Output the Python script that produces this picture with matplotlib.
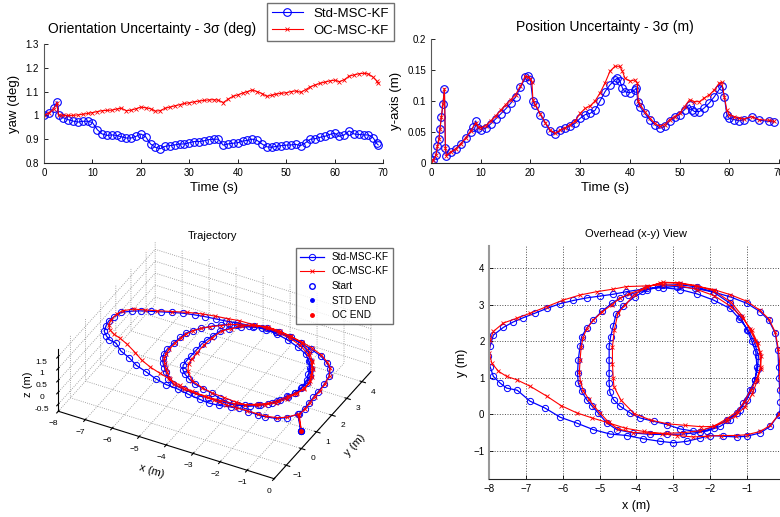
import numpy as np
import matplotlib
matplotlib.use('Agg')
import matplotlib.pyplot as plt

plt.rcParams['font.family'] = ['Liberation Sans', 'DejaVu Sans']

# ---------------- orientation uncertainty (yaw, deg) ----------------
t_yaw = [0, 1, 2, 2.7, 3, 4, 5, 6, 7, 8, 9, 10, 11, 12, 13, 14, 15, 16, 17, 18,
         19, 20, 21, 22, 23, 24, 25, 26, 27, 28, 29, 30, 31, 32, 33, 34, 35, 36,
         37, 38, 39, 40, 41, 42, 43, 44, 45, 46, 47, 48, 49, 50, 51, 52, 53, 54,
         55, 56, 57, 58, 59, 60, 61, 62, 63, 64, 65, 66, 67, 68, 68.7, 69]
yaw_std = [1.000, 1.010, 1.030, 1.058, 1.000, 0.990, 0.982, 0.976, 0.972, 0.975,
           0.976, 0.970, 0.940, 0.922, 0.916, 0.918, 0.916, 0.910, 0.905, 0.905,
           0.912, 0.922, 0.910, 0.880, 0.866, 0.860, 0.870, 0.873, 0.876, 0.880,
           0.880, 0.885, 0.890, 0.890, 0.893, 0.898, 0.900, 0.900, 0.875, 0.880,
           0.883, 0.885, 0.892, 0.895, 0.900, 0.895, 0.880, 0.868, 0.866, 0.870,
           0.873, 0.875, 0.876, 0.878, 0.873, 0.885, 0.900, 0.902, 0.908, 0.912,
           0.920, 0.925, 0.912, 0.918, 0.935, 0.922, 0.920, 0.918, 0.918, 0.905,
           0.882, 0.876]
yaw_oc = [1.000, 1.010, 1.028, 1.052, 1.003, 1.000, 1.000, 1.000, 1.002, 1.005,
          1.008, 1.012, 1.016, 1.020, 1.021, 1.022, 1.027, 1.030, 1.020, 1.022,
          1.028, 1.035, 1.032, 1.028, 1.018, 1.020, 1.030, 1.035, 1.040, 1.045,
          1.050, 1.053, 1.057, 1.060, 1.063, 1.065, 1.066, 1.064, 1.054, 1.068,
          1.080, 1.086, 1.094, 1.100, 1.107, 1.100, 1.092, 1.080, 1.085, 1.090,
          1.093, 1.095, 1.100, 1.103, 1.097, 1.108, 1.120, 1.128, 1.135, 1.140,
          1.145, 1.148, 1.142, 1.150, 1.165, 1.170, 1.175, 1.177, 1.174, 1.160,
          1.145, 1.135]

# ---------------- position uncertainty (y-axis, m) ----------------
t_pos_std = [0, 0.5, 1, 1.3, 1.6, 1.8, 2.1, 2.4, 2.7, 2.9, 3.1, 4, 5, 6, 7, 8, 8.5,
             9, 9.5, 10, 11, 12, 13, 14, 15, 16, 17, 18, 19, 19.5, 20, 20.5, 21,
             22, 23, 24, 25, 26, 27, 28, 29, 30, 31, 32, 33, 34, 35, 36, 37, 37.5,
             38, 38.5, 39, 40, 41, 41.3, 41.6, 42, 43, 44, 45, 46, 47, 48, 49, 50,
             51, 52, 52.5, 53, 54, 55, 56, 57, 58, 58.5, 59, 59.5, 60, 61, 62, 63,
             64.5, 66, 68, 69]
pos_std = [0, 0.005, 0.013, 0.027, 0.038, 0.055, 0.075, 0.095, 0.120, 0.024,
           0.012, 0.018, 0.023, 0.031, 0.040, 0.050, 0.058, 0.068, 0.056, 0.054,
           0.056, 0.063, 0.071, 0.079, 0.087, 0.096, 0.106, 0.122, 0.138, 0.140,
           0.134, 0.100, 0.093, 0.078, 0.064, 0.051, 0.047, 0.053, 0.056, 0.060,
           0.064, 0.072, 0.078, 0.080, 0.085, 0.100, 0.115, 0.126, 0.134, 0.137,
           0.132, 0.121, 0.115, 0.113, 0.118, 0.121, 0.099, 0.091, 0.080, 0.070,
           0.062, 0.056, 0.059, 0.068, 0.074, 0.078, 0.086, 0.094, 0.086, 0.083,
           0.083, 0.089, 0.097, 0.107, 0.119, 0.125, 0.107, 0.078, 0.072, 0.070,
           0.068, 0.070, 0.075, 0.069, 0.067, 0.066]
t_pos_oc = [0, 0.5, 1, 1.3, 1.6, 1.8, 2.1, 2.4, 2.7, 2.9, 3.1, 4, 5, 6, 7, 8, 9,
            9.5, 10, 11, 12, 13, 14, 15, 16, 17, 18, 19, 19.5, 20, 20.3, 20.5, 21,
            22, 23, 24, 25, 26, 27, 28, 29, 30, 31, 32, 33, 34, 35, 36, 37, 38,
            38.5, 39, 40, 41, 41.5, 41.7, 42, 43, 44, 45, 46, 47, 48, 49, 50, 51,
            52, 53, 54, 55, 56, 57, 58, 58.5, 59, 59.5, 60, 61, 62, 63, 64.5, 66,
            68, 69]
pos_oc = [0, 0.005, 0.013, 0.027, 0.038, 0.055, 0.075, 0.095, 0.120, 0.024,
          0.012, 0.018, 0.023, 0.031, 0.041, 0.052, 0.065, 0.058, 0.057, 0.060,
          0.068, 0.076, 0.085, 0.094, 0.102, 0.110, 0.124, 0.140, 0.139, 0.136,
          0.130, 0.102, 0.094, 0.079, 0.065, 0.053, 0.048, 0.053, 0.057, 0.062,
          0.068, 0.080, 0.088, 0.092, 0.100, 0.113, 0.129, 0.148, 0.156, 0.156,
          0.148, 0.137, 0.132, 0.134, 0.129, 0.100, 0.094, 0.083, 0.072, 0.064,
          0.059, 0.062, 0.070, 0.075, 0.080, 0.091, 0.102, 0.099, 0.099, 0.105,
          0.110, 0.118, 0.129, 0.130, 0.107, 0.086, 0.078, 0.075, 0.072, 0.071,
          0.075, 0.070, 0.069, 0.067]

# ---------------- trajectories (x, y in m) ----------------
std_xy = [
    (-0.05, 0.05), (-0.10, 0.00), (-0.08, 0.35), (-0.10, 0.67), (-0.12, 1.00),
    (-0.13, 1.31), (-0.15, 1.76), (-0.22, 2.22), (-0.40, 2.58), (-0.63, 2.81),
    (-0.99, 3.04), (-1.45, 3.22), (-1.90, 3.35), (-2.40, 3.45), (-2.90, 3.50),
    (-3.40, 3.48), (-3.85, 3.38),
    # middle loop
    (-4.22, 3.27), (-4.45, 3.18), (-4.67, 3.04), (-4.94, 2.82), (-5.17, 2.59),
    (-5.35, 2.36), (-5.49, 2.13), (-5.53, 1.86), (-5.58, 1.50), (-5.60, 1.13),
    (-5.58, 0.86), (-5.49, 0.63), (-5.35, 0.40), (-5.20, 0.22), (-5.05, 0.05),
    (-4.80, -0.24), (-4.53, -0.42), (-4.08, -0.51), (-3.62, -0.55), (-3.17, -0.55),
    (-2.72, -0.54), (-2.26, -0.49), (-1.90, -0.37), (-1.54, -0.15), (-1.27, 0.04),
    (-1.09, 0.31), (-0.90, 0.67), (-0.77, 0.95), (-0.72, 1.30), (-0.75, 1.70),
    (-0.86, 2.00), (-0.99, 2.31), (-1.17, 2.67), (-1.45, 3.04), (-1.90, 3.35),
    (-2.35, 3.49), (-2.81, 3.55), (-3.27, 3.54), (-3.70, 3.42),
    # inner loop
    (-4.05, 3.22), (-4.35, 2.98), (-4.55, 2.75), (-4.63, 2.41), (-4.70, 2.13),
    (-4.74, 1.86), (-4.74, 1.50), (-4.74, 1.13), (-4.74, 0.86), (-4.72, 0.60),
    (-4.62, 0.40), (-4.44, 0.22), (-4.17, 0.04), (-3.90, -0.10), (-3.53, -0.19),
    (-3.17, -0.28), (-2.81, -0.40), (-2.45, -0.46), (-2.08, -0.46), (-1.72, -0.33),
    (-1.45, -0.15), (-1.18, 0.13), (-1.00, 0.40), (-0.86, 0.67), (-0.78, 0.95),
    (-0.70, 1.25), (-0.68, 1.60), (-0.78, 1.95), (-0.95, 2.30), (-1.20, 2.62),
    (-1.45, 2.90), (-1.90, 3.13), (-2.35, 3.30), (-2.81, 3.42), (-3.27, 3.47),
    (-3.70, 3.45),
    # big outer loop
    (-4.27, 3.36), (-4.63, 3.29), (-4.99, 3.24), (-5.35, 3.19), (-5.71, 3.12),
    (-6.08, 3.03), (-6.44, 2.90), (-6.76, 2.77), (-7.07, 2.65), (-7.35, 2.53),
    (-7.62, 2.38), (-7.89, 2.17), (-7.98, 1.86), (-8.03, 1.59), (-7.98, 1.31),
    (-7.89, 1.04), (-7.71, 0.86), (-7.53, 0.72), (-7.24, 0.66), (-6.89, 0.36),
    (-6.48, 0.17), (-6.07, -0.08), (-5.62, -0.24), (-5.17, -0.42), (-4.71, -0.54),
    (-4.26, -0.58), (-3.81, -0.67), (-3.35, -0.74), (-2.99, -0.78), (-2.63, -0.74),
    (-2.26, -0.65), (-2.00, -0.58), (-1.63, -0.60), (-1.27, -0.62), (-1.00, -0.60),
    (-0.63, -0.51), (-0.36, -0.33), (-0.13, -0.01), (-0.05, 0.05)]

oc_xy = [
    (-0.03, 0.05), (-0.08, 0.00), (-0.06, 0.35), (-0.08, 0.70), (-0.10, 1.05),
    (-0.10, 1.40), (-0.14, 1.80), (-0.22, 2.25), (-0.40, 2.62), (-0.65, 2.86),
    (-1.00, 3.10), (-1.45, 3.28), (-1.90, 3.42), (-2.40, 3.52), (-2.90, 3.60),
    (-3.35, 3.60), (-3.80, 3.45),
    # middle loop
    (-4.20, 3.30), (-4.45, 3.18), (-4.67, 3.00), (-4.94, 2.80), (-5.17, 2.58),
    (-5.35, 2.35), (-5.45, 2.10), (-5.50, 1.85), (-5.53, 1.50), (-5.55, 1.15),
    (-5.52, 0.88), (-5.44, 0.65), (-5.30, 0.42), (-5.15, 0.22), (-5.00, 0.05),
    (-4.75, -0.22), (-4.50, -0.40), (-4.08, -0.50), (-3.62, -0.52), (-3.17, -0.52),
    (-2.72, -0.50), (-2.26, -0.45), (-1.90, -0.33), (-1.54, -0.12), (-1.27, 0.07),
    (-1.07, 0.33), (-0.88, 0.68), (-0.72, 0.98), (-0.62, 1.30), (-0.64, 1.70),
    (-0.76, 2.02), (-0.92, 2.34), (-1.12, 2.70), (-1.42, 3.07), (-1.88, 3.38),
    (-2.35, 3.52), (-2.81, 3.60), (-3.27, 3.62), (-3.70, 3.50),
    # inner loop
    (-4.05, 3.28), (-4.30, 3.00), (-4.50, 2.77), (-4.60, 2.31), (-4.65, 1.85),
    (-4.65, 1.39), (-4.63, 1.00), (-4.61, 0.76), (-4.42, 0.39), (-4.06, 0.02),
    (-3.60, -0.16), (-3.15, -0.26), (-2.69, -0.30), (-2.23, -0.34), (-1.90, -0.33),
    (-1.54, -0.19), (-1.32, -0.05), (-1.05, 0.20), (-0.85, 0.55), (-0.72, 0.90),
    (-0.62, 1.25), (-0.60, 1.60), (-0.70, 1.95), (-0.86, 2.30), (-1.10, 2.63),
    (-1.42, 2.95), (-1.88, 3.25), (-2.35, 3.42), (-2.81, 3.52), (-3.27, 3.55),
    (-3.70, 3.52),
    # big outer loop
    (-4.27, 3.50), (-4.63, 3.43), (-5.08, 3.36), (-5.53, 3.27), (-5.99, 3.13),
    (-6.44, 2.95), (-6.89, 2.77), (-7.26, 2.63), (-7.62, 2.50), (-7.89, 2.27),
    (-7.98, 2.04), (-8.00, 1.68), (-7.93, 1.40), (-7.75, 1.18), (-7.53, 1.04),
    (-7.26, 0.95), (-6.89, 0.77), (-6.44, 0.50), (-6.05, 0.24), (-5.62, 0.04),
    (-5.20, -0.10), (-4.80, -0.22), (-4.30, -0.38), (-3.80, -0.47), (-3.30, -0.53),
    (-2.90, -0.58), (-2.45, -0.62), (-2.08, -0.60), (-1.70, -0.58), (-1.30, -0.58),
    (-1.00, -0.56), (-0.63, -0.47), (-0.36, -0.30), (-0.12, 0.00), (-0.03, 0.05)]

z_loop = 0.6    # height of the loops in the 3D view
z_tail = -0.1   # height of start / end point

std_xy = np.array(std_xy)
oc_xy = np.array(oc_xy)
z_std = np.full(len(std_xy), z_loop)
z_std[[0, -1]] = z_tail
z_oc = np.full(len(oc_xy), z_loop)
z_oc[[0, -1]] = z_tail

W, H = 780, 517
fig = plt.figure(figsize=(W / 100, H / 100), dpi=100)


def px_rect(l, t, r, b):
    return [l / W, 1 - b / H, (r - l) / W, (b - t) / H]


def matlab_2d(ax):
    for s in ('top', 'right'):
        ax.spines[s].set_visible(False)
    ax.spines['left'].set_color('0.35')
    ax.spines['bottom'].set_color('0.15')
    ax.tick_params(direction='in', length=3, labelsize=7, width=0.6)


std_style = dict(color='b', marker='o', mfc='none', ms=5.5, mew=0.8, lw=0.8)
oc_style = dict(color='r', marker='x', ms=3, mew=0.6, lw=0.8)

# top left
ax1 = fig.add_axes(px_rect(44, 44, 383, 163))
h_std, = ax1.plot(t_yaw, yaw_std, label='Std-MSC-KF', **std_style)
h_oc, = ax1.plot(t_yaw, yaw_oc, label='OC-MSC-KF', **oc_style)
ax1.set_xlim(0, 70)
ax1.set_ylim(0.8, 1.3)
ax1.set_xticks(range(0, 71, 10))
ax1.set_yticks([0.8, 0.9, 1.0, 1.1, 1.2, 1.3])
ax1.set_yticklabels(['0.8', '0.9', '1', '1.1', '1.2', '1.3'])
matlab_2d(ax1)
ax1.set_xlabel('Time (s)', fontsize=9.5, labelpad=3)
ax1.set_ylabel('yaw (deg)', fontsize=9.5, labelpad=4)
ax1.text(0.32, 1.07, 'Orientation Uncertainty - 3σ (deg)', transform=ax1.transAxes,
         ha='center', va='bottom', fontsize=10)

# top right
ax2 = fig.add_axes(px_rect(431, 39, 779, 163))
ax2.plot(t_pos_std, pos_std, **std_style)
ax2.plot(t_pos_oc, pos_oc, **oc_style)
ax2.set_xlim(0, 70)
ax2.set_ylim(0, 0.2)
ax2.set_xticks(range(0, 71, 10))
ax2.set_yticks([0, 0.05, 0.1, 0.15, 0.2])
ax2.set_yticklabels(['0', '0.05', '0.1', '0.15', '0.2'])
matlab_2d(ax2)
ax2.set_xlabel('Time (s)', fontsize=9.5, labelpad=3)
ax2.set_ylabel('y-axis (m)', fontsize=9.5, labelpad=4)
ax2.set_title('Position Uncertainty - 3σ (m)', fontsize=10, pad=6)

fig.legend(handles=[h_std, h_oc], loc='upper left', bbox_to_anchor=(267 / W, 1 - 3 / H),
           fontsize=9.5, frameon=True, fancybox=False, edgecolor='0.3',
           borderaxespad=0, handlelength=2.4, borderpad=0.35, labelspacing=0.35)

# bottom right: overhead view
tr_std = dict(color='b', marker='o', mfc='none', ms=4.5, mew=0.7, lw=0.9)
tr_oc = dict(color='r', marker='x', ms=3, mew=0.6, lw=0.8)
ax4 = fig.add_axes(px_rect(489.3, 245.7, 783.4, 479.3))
ax4.plot(std_xy[:, 0], std_xy[:, 1], **tr_std)
ax4.plot(oc_xy[:, 0], oc_xy[:, 1], **tr_oc)
ax4.set_xlim(-8, 0)
ax4.set_ylim(-1.78, 4.62)
ax4.set_xticks(range(-8, 1))
ax4.set_yticks(range(-1, 5))
ax4.grid(True, ls=':', color='0.3', lw=0.7)
matlab_2d(ax4)
ax4.spines['left'].set_color('0.6')
ax4.spines['left'].set_linewidth(1.5)
ax4.set_xlabel('x (m)', fontsize=9, labelpad=4)
ax4.set_ylabel('y (m)', fontsize=9, labelpad=4)
ax4.set_title('Overhead (x-y) View', fontsize=8, pad=6)

# bottom left: 3D trajectory
ax3 = fig.add_axes([0.0, 0.005, 0.54, 0.58], projection='3d')
ax3.set_proj_type('ortho')
ax3.view_init(elev=36, azim=-62)
ax3.plot(std_xy[:, 0], std_xy[:, 1], z_std, label='Std-MSC-KF', **tr_std)
ax3.plot(oc_xy[:, 0], oc_xy[:, 1], z_oc, label='OC-MSC-KF', **tr_oc)
ax3.plot([std_xy[0, 0]], [std_xy[0, 1]], [z_std[0]], 'o', color='b', mfc='none', ms=4,
         ls='none', label='Start')
ax3.plot([std_xy[-1, 0]], [std_xy[-1, 1]], [z_std[-1]], '.', color='b', ms=5,
         ls='none', label='STD END')
ax3.plot([oc_xy[-1, 0]], [oc_xy[-1, 1]], [z_oc[-1]], '.', color='r', ms=5,
         ls='none', label='OC END')
ax3.set_xlim(-8, 0)
ax3.set_ylim(-1.8, 4.6)
ax3.set_zlim(-0.8, 1.8)
ax3.set_xticks(range(-8, 1))
ax3.set_yticks(range(-1, 5))
ax3.set_zticks([-0.5, 0, 0.5, 1, 1.5])
ax3.set_zticklabels(['-0.5', '0', '0.5', '1', '1.5'])
ax3.set_box_aspect((8 * 30.8, 6.4 * 32.5, 2.6 * 29.7), zoom=1.065)
ax3.zaxis.set_ticks_position('lower')
ax3.zaxis.set_label_position('lower')
for a in (ax3.xaxis, ax3.yaxis, ax3.zaxis):
    a.set_pane_color((1, 1, 1, 0))
    a._axinfo['grid'].update(color='0.55', linestyle=':', linewidth=0.6)
ax3.tick_params(labelsize=6, pad=-2)
ax3.set_xlabel('x (m)', fontsize=8, labelpad=-4)
ax3.set_ylabel('y (m)', fontsize=8, labelpad=-4)
ax3.set_zlabel('z (m)', fontsize=8, labelpad=-10)
fig.text(213 / W, 1 - 236 / H, 'Trajectory', ha='center', va='center', fontsize=8)
ax3.legend(loc='upper right', bbox_to_anchor=(393 / W, 1 - 248 / H),
           bbox_transform=fig.transFigure, fontsize=7.2, fancybox=False,
           edgecolor='0.3', borderaxespad=0, handlelength=2.4, labelspacing=0.45)

fig.savefig('out.png', dpi=100)
